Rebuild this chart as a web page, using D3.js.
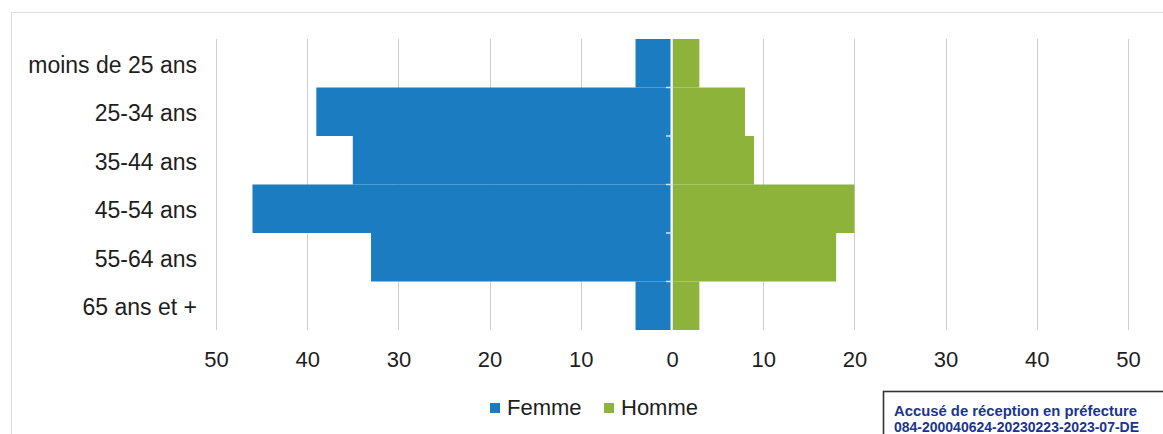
<!DOCTYPE html>
<html lang="fr">
<head>
    <meta charset="UTF-8">
    <title>Pyramide des âges</title>
    <script src="https://d3js.org/d3.v7.min.js"></script>
    <style>
        body {
            margin: 0;
            background: #fff;
            font-family: "Liberation Sans", Arial, sans-serif;
        }
        svg {
            display: block;
        }
    </style>
</head>
<body>
    <svg id="pyramid" width="1163" height="434"></svg>
    <script>
        const categories = ["moins de 25 ans", "25-34 ans", "35-44 ans", "45-54 ans", "55-64 ans", "65 ans et +"];
        const femme = [4, 39, 35, 46, 33, 4];
        const homme = [3, 8, 9, 20, 18, 3];
        const tickValues = [-50, -40, -30, -20, -10, 0, 10, 20, 30, 40, 50];
        const seriesNames = ["Femme", "Homme"];
        const colors = { Femme: "#1b7cc1", Homme: "#8db33a" };

        const width = 1163, height = 434;
        const plot = { left: 216, right: 1128, top: 39, bottom: 330 };

        const svg = d3.select("#pyramid");

        // chart frame (top and left edges only are visible in the scan)
        svg.append("line")
            .attr("x1", 11.5).attr("x2", width)
            .attr("y1", 12.5).attr("y2", 12.5)
            .attr("stroke", "#dcdcdc");
        svg.append("line")
            .attr("x1", 11.5).attr("x2", 11.5)
            .attr("y1", 12.5).attr("y2", height)
            .attr("stroke", "#dcdcdc");

        const x = d3.scaleLinear()
            .domain([-50, 50])
            .range([plot.left, plot.right]);

        const y = d3.scaleBand()
            .domain(categories)
            .range([plot.top, plot.bottom])
            .padding(0);

        // gridlines
        svg.append("g")
            .selectAll("line")
            .data(tickValues)
            .join("line")
            .attr("x1", d => Math.round(x(d)) + 0.5)
            .attr("x2", d => Math.round(x(d)) + 0.5)
            .attr("y1", plot.top)
            .attr("y2", plot.bottom)
            .attr("stroke", "#cccccc");

        // bars
        const rows = categories.map((c, i) => ({ cat: c, f: femme[i], h: homme[i] }));

        svg.append("g")
            .selectAll("rect")
            .data(rows)
            .join("rect")
            .attr("x", d => x(-d.f))
            .attr("y", d => y(d.cat))
            .attr("width", d => x(0) - x(-d.f) - 1.5)
            .attr("height", y.bandwidth())
            .attr("fill", colors.Femme);

        svg.append("g")
            .selectAll("rect")
            .data(rows)
            .join("rect")
            .attr("x", x(0) + 1)
            .attr("y", d => y(d.cat))
            .attr("width", d => x(d.h) - x(0) - 1)
            .attr("height", y.bandwidth())
            .attr("fill", colors.Homme);

        // central axis with ticks at category boundaries
        svg.append("line")
            .attr("x1", x(0)).attr("x2", x(0))
            .attr("y1", plot.top).attr("y2", plot.bottom)
            .attr("stroke", "#f4f8fb")
            .attr("stroke-width", 1.2);
        svg.append("g")
            .selectAll("line")
            .data(categories.slice(1))
            .join("line")
            .attr("x1", x(0) - 6).attr("x2", x(0))
            .attr("y1", d => y(d)).attr("y2", d => y(d))
            .attr("stroke", "#d6e6f3")
            .attr("stroke-width", 1.5);

        // x axis labels
        const xAxis = svg.append("g")
            .attr("transform", `translate(0,${plot.bottom})`)
            .call(d3.axisBottom(x)
                .tickValues(tickValues)
                .tickSize(0)
                .tickPadding(21)
                .tickFormat(d => Math.abs(d)));
        xAxis.select(".domain").remove();
        xAxis.selectAll("text")
            .attr("fill", "#1e1e1e")
            .style("font-size", "22px")
            .style("font-family", "'Liberation Sans', Arial, sans-serif");

        // category labels
        const yAxis = svg.append("g")
            .attr("transform", `translate(${plot.left},0)`)
            .call(d3.axisLeft(y).tickSize(0).tickPadding(19));
        yAxis.select(".domain").remove();
        yAxis.selectAll("text")
            .attr("fill", "#1e1e1e")
            .attr("dy", "0.42em")
            .style("font-size", "23px")
            .style("font-family", "'Liberation Sans', Arial, sans-serif");

        // legend
        const legendX = [490, 604];
        const legend = svg.append("g")
            .selectAll("g")
            .data(seriesNames)
            .join("g")
            .attr("transform", (d, i) => `translate(${legendX[i]},403)`);
        legend.append("rect")
            .attr("width", 10).attr("height", 10)
            .attr("fill", d => colors[d]);
        legend.append("text")
            .attr("x", 17).attr("y", 12)
            .attr("fill", "#1e1e1e")
            .style("font-size", "22px")
            .text(d => d);

        // reception stamp
        svg.append("rect")
            .attr("x", 883.5).attr("y", 391.5)
            .attr("width", 300).attr("height", 60)
            .attr("fill", "#fff")
            .attr("stroke", "#333")
            .attr("stroke-width", 1.6);
        svg.append("text")
            .attr("x", 894).attr("y", 416)
            .attr("fill", "#1a3590")
            .style("font-size", "14px")
            .style("font-weight", "600")
            .attr("textLength", 243)
            .attr("lengthAdjust", "spacingAndGlyphs")
            .text("Accusé de réception en préfecture");
        svg.append("text")
            .attr("x", 894).attr("y", 432)
            .attr("fill", "#1a3590")
            .style("font-size", "14px")
            .style("font-weight", "600")
            .attr("textLength", 245)
            .attr("lengthAdjust", "spacingAndGlyphs")
            .text("084-200040624-20230223-2023-07-DE");
    </script>
</body>
</html>
